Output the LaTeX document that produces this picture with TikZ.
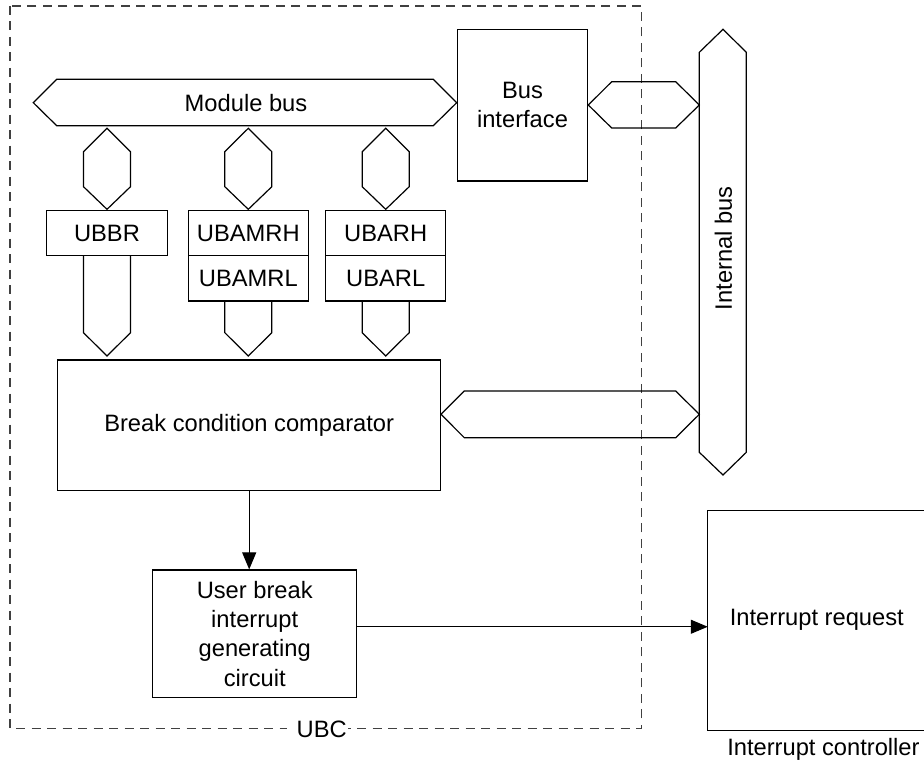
\documentclass[tikz,border=0pt]{standalone}
\usepackage{fontspec}
\setmainfont{Liberation Sans}
\usetikzlibrary{arrows.meta}
\begin{document}
\begin{tikzpicture}[x=0.5pt,y=-0.5pt, line width=0.55pt,
  every node/.style={font=\fontsize{11.85pt}{14.65pt}\selectfont, inner sep=0pt},
  box/.style={draw, rectangle, inner sep=0pt, line width=0.6pt},
  bus/.style={draw, line width=0.6pt, line join=miter},
  ubcline/.style={dash pattern=on 4.5pt off 3.25pt, draw=black!75, line width=0.55pt},
  arr/.style={-{Triangle[length=8.5pt,width=7pt]}}]
\useasboundingbox (0,0) rectangle (924,765);

% UBC dashed frame
\draw[ubcline] (10,6) rectangle (641.7,728.3);
\fill[white] (287,718) rectangle (348,740);
\node (ubc) at (321.7,729) {UBC};

% Module bus
\draw[bus] (33.3,102.7) -- (56.7,79.3) -- (433.3,79.3) -- (456.7,102.7) -- (433.3,125.7) -- (56.7,125.7) -- cycle;
\node (mb) at (246,102.7) {Module bus};

% Bus interface
\node[box, minimum width=64.8pt, minimum height=75.85pt, align=center] (bi) at (522.5,105.15) {Bus\\interface};

% bus interface <-> internal bus
\draw[bus] (588.3,105) -- (611.7,81.7) -- (675.7,81.7) -- (699.3,105) -- (675.7,128) -- (611.7,128) -- cycle;

% Internal bus
\draw[bus] (723,29.3) -- (746.3,52.3) -- (746.3,452.3) -- (723,475) -- (699.3,452.3) -- (699.3,52.3) -- cycle;
\node[rotate=90] (ib) at (723.5,248.3) {Internal bus};

% comparator <-> internal bus
\draw[bus] (441,414.3) -- (464.3,391) -- (675.7,391) -- (699.3,414.3) -- (675.7,437.7) -- (464.3,437.7) -- cycle;

% small hexagons module bus -> registers
\foreach \cx in {107,248.3,385.7}{
  \draw[bus] (\cx,128.3) -- (\cx+23.5,151.7) -- (\cx+23.5,186.7) -- (\cx,209.3) -- (\cx-23.5,186.7) -- (\cx-23.5,151.7) -- cycle;
}

% registers
\node[box, minimum width=60.35pt, minimum height=22.7pt] (ubbr) at (107,233) {UBBR};
\node[box, minimum width=60pt, minimum height=22.7pt] (ubamrh) at (248.3,233) {UBAMRH};
\node[box, minimum width=60pt, minimum height=22.7pt] (ubamrl) at (248.3,278.35) {UBAMRL};
\node[box, minimum width=60pt, minimum height=22.7pt] (ubarh) at (385.7,233) {UBARH};
\node[box, minimum width=60pt, minimum height=22.7pt] (ubarl) at (385.7,278.35) {UBARL};

% downward buses into comparator
\draw[bus] (83.5,255.7) -- (83.5,332.7) -- (107,356) -- (130.5,332.7) -- (130.5,255.7);
\draw[bus] (224.8,301) -- (224.8,332.7) -- (248.3,356) -- (271.8,332.7) -- (271.8,301);
\draw[bus] (362.2,301) -- (362.2,332.7) -- (385.7,356) -- (409.2,332.7) -- (409.2,301);

% comparator
\node[box, minimum width=191.5pt, minimum height=65.35pt] (cmp) at (249.2,425.35) {\raisebox{1pt}{Break condition comparator}};

% user break interrupt generating circuit
\node[box, minimum width=102pt, minimum height=63.65pt, align=center] (ub) at (254.7,633.65) {User break\\interrupt\\generating\\circuit};

\draw[arr] (cmp.south) -- (cmp.south |- ub.north);

% interrupt controller
\node[minimum width=108.85pt, minimum height=109.65pt] (ic) at (817.15,620.35) {};
\draw[line width=0.6pt] (ic.north east) -- (ic.north west) -- (ic.south west) -- (ic.south east);
\node[anchor=west] (ir) at (729.3,619.3) {Interrupt request};
\node[anchor=west] (icl) at (726.7,749.3) {Interrupt controller};

\draw[arr] ([yshift=3.45pt]ub.east) -- ([yshift=3.45pt]ub.east -| ic.west);
\end{tikzpicture}
\end{document}
